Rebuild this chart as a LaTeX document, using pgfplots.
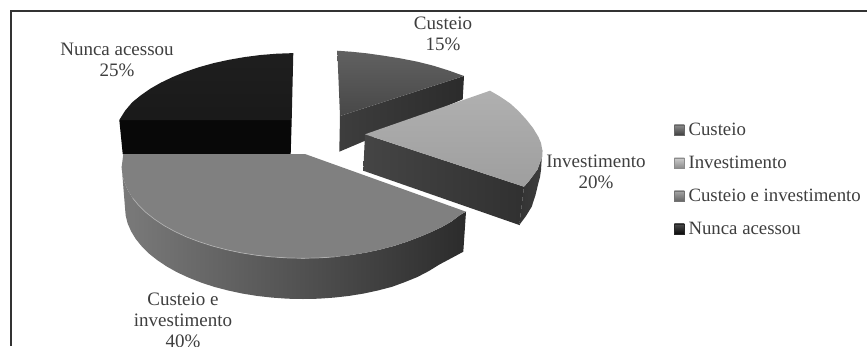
\documentclass[border=0pt]{standalone}
\usepackage{pgfplots}
\pgfplotsset{compat=1.18}
\usepackage{fontspec}
\setmainfont{Liberation Serif}
\definecolor{labelgray}{HTML}{3E3E3E}
\newcommand{\pielabel}[3]{\node[align=center,text=labelgray,inner sep=0pt,font=\fontsize{19}{21}\selectfont] at (axis cs:#1,#2) {#3};}
\begin{document}
\begin{tikzpicture}
\path[use as bounding box,clip] (0,0) rectangle (867pt,346pt);
\begin{axis}[
  scale only axis,width=867pt,height=346pt,
  xmin=0,xmax=867,ymin=0,ymax=346,y dir=reverse,
  hide axis,clip=false,
  legend style={at={(axis cs:674,123)},anchor=north west,draw=none,fill=none,
    font=\fontsize{18.8}{20}\selectfont,text=labelgray,
    inner sep=0pt,outer sep=0pt,row sep=19pt,column sep=4pt,
    nodes={inner sep=0pt}},
  legend cell align=left,
]
% legend keys
\addlegendimage{legend image code/.code={\shade[top color=black!45,bottom color=black!75,draw=black!60,line width=.5pt] (2pt,-5pt) rectangle (12pt,5pt);}}
\addlegendentry{Custeio}
\addlegendimage{legend image code/.code={\shade[top color=black!20,bottom color=black!45,draw=black!45,line width=.5pt] (2pt,-5pt) rectangle (12pt,5pt);}}
\addlegendentry{Investimento}
\addlegendimage{legend image code/.code={\shade[top color=black!35,bottom color=black!60,draw=black!55,line width=.5pt] (2pt,-5pt) rectangle (12pt,5pt);}}
\addlegendentry{Custeio e investimento}
\addlegendimage{legend image code/.code={\shade[top color=black!70,bottom color=black!95,draw=black!85,line width=.5pt] (2pt,-5pt) rectangle (12pt,5pt);}}
\addlegendentry{Nunca acessou}

% frame, open to the right and below
\addplot[forget plot,line width=1.3pt,color=black!80] coordinates {(11,346) (11,11) (867,11)};

% Nunca acessou, 25%
\addplot[forget plot,draw=none,fill=black!97] coordinates {(119.3,120) (291.7,120) (290.7,154) (122.7,154)} -- cycle;
\addplot[forget plot,draw=none,top color=black!88,bottom color=black!90] coordinates {(293.3,53.1) (276.8,53.7) (260.5,55) (244.4,57.1) (228.8,59.8) (213.7,63.1) (199.3,67.1) (185.7,71.7) (172.9,76.9) (161,82.6) (150.3,88.7) (140.7,95.4) (132.2,102.3) (125.1,110.7) (119.3,120) (291.7,120)} -- cycle;

% Custeio, 15%
\addplot[forget plot,draw=none,left color=black!76,right color=black!83] coordinates {(340,116) (464,76) (462.7,99.3) (339.3,151.7)} -- cycle;
\addplot[forget plot,draw=none,top color=black!62,bottom color=black!72] coordinates {(337.3,50.7) (352,51.8) (366.7,53.3) (383,55.6) (400,58.3) (417,61.6) (433.3,65.7) (449,70.6) (464,76) (340,116)} -- cycle;

% Investimento, 20%
\addplot[forget plot,draw=none,left color=black!73,right color=black!81] coordinates {(365,134.3) (524,186.7) (519.3,225) (363.3,170.7)} -- cycle;
\addplot[forget plot,draw=none,left color=black!80,right color=black!76] coordinates {(524,186.7) (529,181) (537.5,169.5) (542,157) (542.3,150) (541,170) (540,177) (538.3,183.3) (535.5,195) (531.7,206.7) (526,216) (519.3,225)} -- cycle;
\addplot[forget plot,draw=none,top color=black!31,bottom color=black!38] coordinates {(365,134.3) (490,90.7) (500,96.5) (510,103.3) (518.5,111) (526.7,120) (533,128) (538.3,136.7) (541,143) (542.3,150) (542,157) (537.5,169.5) (529,181) (524,186.7)} -- cycle;

% Custeio e investimento, 40%
\addplot[forget plot,draw=none,left color=black!52,middle color=black!72,right color=black!83] coordinates {(121.7,166.7) (122.4,174.7) (124.5,182.6) (127.9,190.4) (132.6,198) (138.7,205.4) (146,212.5) (154.5,219.2) (164.1,225.6) (174.8,231.5) (186.4,236.9) (199,241.7) (212.4,246) (226.4,249.7) (241,252.8) (256.1,255.2) (271.5,256.9) (287.2,257.9) (303,258.3) (318.8,257.9) (334.5,256.9) (349.9,255.2) (365,252.8) (379.6,249.7) (393.7,246) (407,241.7) (419.6,236.9) (431.2,232) (441.9,227) (451.5,221.5) (460,215) (466,211.7)
 (463.3,251.7) (457.2,255) (448.8,259.5) (439.4,264.5) (428.9,271) (417.4,277) (405.1,282) (392,286.8) (378.2,290.4) (363.9,293.5) (349.1,295.9) (333.9,297.6) (318.5,298.7) (303,299) (287.5,298.7) (272.1,297.6) (256.9,295.9) (242.1,293.5) (227.8,290.4) (214,286.8) (200.9,282.5) (188.6,277.6) (177.1,272.3) (166.6,266.4) (157.2,260.1) (148.8,253.4) (141.7,246.3) (135.7,238.9) (131.1,231.3) (127.7,223.6) (125.7,215.7) (125,207.7)} -- cycle;
\addplot[forget plot,draw=none,fill=black!50] coordinates {(123.3,154) (305,154) (466,211.7) (460,215) (451.5,221.5) (441.9,227) (431.2,232) (419.6,236.9) (407,241.7) (393.7,246) (379.6,249.7) (365,252.8) (349.9,255.2) (334.5,256.9) (318.8,257.9) (303,258.3) (287.2,257.9) (271.5,256.9) (256.1,255.2) (241,252.8) (226.4,249.7) (212.4,246) (199,241.7) (186.4,236.9) (174.8,231.5) (164.1,225.6) (154.5,219.2) (146,212.5) (138.7,205.4) (132.6,198) (127.9,190.4) (124.5,182.6) (122.4,174.7) (121.7,166.7)} -- cycle;
% bright rim along the front of the top face
\addplot[forget plot,line width=.7pt,color=black!28,opacity=.8] coordinates {(132.6,198) (138.7,205.4) (146,212.5) (154.5,219.2) (164.1,225.6) (174.8,231.5) (186.4,236.9) (199,241.7) (212.4,246) (226.4,249.7) (241,252.8) (256.1,255.2) (271.5,256.9) (287.2,257.9) (303,258.3) (318.8,257.9) (334.5,256.9)};

% data labels
\pielabel{443}{34}{Custeio\\15\%}
\pielabel{117}{60}{Nunca acessou\\25\%}
\pielabel{596}{172}{Investimento\\20\%}
\pielabel{183}{320.5}{Custeio e\\investimento\\40\%}
\end{axis}
\end{tikzpicture}
\end{document}
